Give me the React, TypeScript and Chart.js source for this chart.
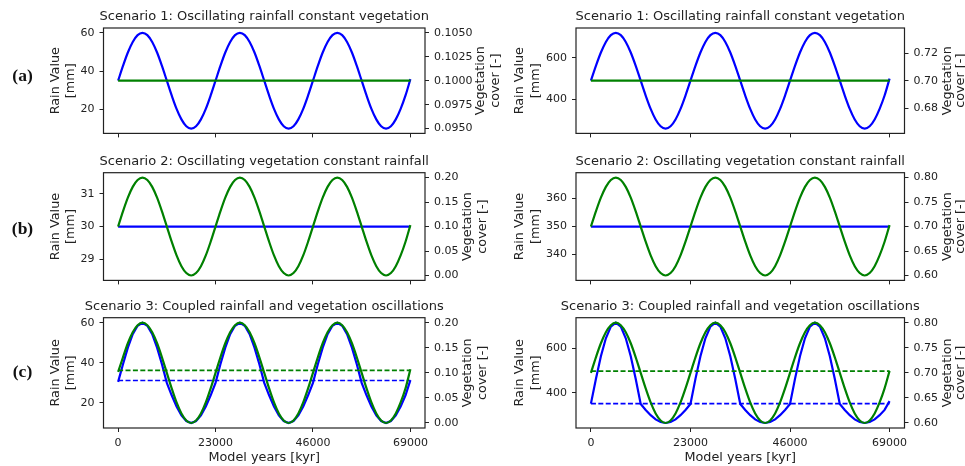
import React, { useEffect, useRef } from 'react';
import { Chart, registerables } from 'chart.js';

Chart.register(...registerables);
Chart.defaults.font.family = 'DejaVu Sans';

// ---------------- data ----------------
const years = [
  0, 1150, 2300, 3450, 4600, 5750, 6900, 8050, 9200, 10350,
  11500, 12650, 13800, 14950, 16100, 17250, 18400, 19550, 20700, 21850,
  23000, 24150, 25300, 26450, 27600, 28750, 29900, 31050, 32200, 33350,
  34500, 35650, 36800, 37950, 39100, 40250, 41400, 42550, 43700, 44850,
  46000, 47150, 48300, 49450, 50600, 51750, 52900, 54050, 55200, 56350,
  57500, 58650, 59800, 60950, 62100, 63250, 64400, 65550, 66700, 67850,
  69000,
];
const yearsEnds = [0, 69000];
const xTicks = [0, 23000, 46000, 69000];

// Scenario 1 (left): rainfall oscillates, vegetation constant
const rainS1L = [
  35, 42.7, 49.7, 55.2, 58.8, 60, 58.8, 55.2, 49.7, 42.7,
  35, 27.3, 20.3, 14.8, 11.2, 10, 11.2, 14.8, 20.3, 27.3,
  35, 42.7, 49.7, 55.2, 58.8, 60, 58.8, 55.2, 49.7, 42.7,
  35, 27.3, 20.3, 14.8, 11.2, 10, 11.2, 14.8, 20.3, 27.3,
  35, 42.7, 49.7, 55.2, 58.8, 60, 58.8, 55.2, 49.7, 42.7,
  35, 27.3, 20.3, 14.8, 11.2, 10, 11.2, 14.8, 20.3, 27.3,
  35.8,
];
const vegS1L = [0.1, 0.1];

// Scenario 1 (right)
const rainS1R = [
  490, 561.1, 625.2, 676.1, 708.8, 720, 708.8, 676.1, 625.2, 561.1,
  490, 418.9, 354.8, 303.9, 271.2, 260, 271.2, 303.9, 354.8, 418.9,
  490, 561.1, 625.2, 676.1, 708.8, 720, 708.8, 676.1, 625.2, 561.1,
  490, 418.9, 354.8, 303.9, 271.2, 260, 271.2, 303.9, 354.8, 418.9,
  490, 561.1, 625.2, 676.1, 708.8, 720, 708.8, 676.1, 625.2, 561.1,
  490, 418.9, 354.8, 303.9, 271.2, 260, 271.2, 303.9, 354.8, 418.9,
  500,
];
const vegS1R = [0.7, 0.7];

// Scenario 2 (left): vegetation oscillates, rainfall constant
const rainS2L = [30, 30];
const vegS2L = [
  0.1, 0.131, 0.159, 0.181, 0.195, 0.2, 0.195, 0.181, 0.159, 0.131,
  0.1, 0.069, 0.041, 0.019, 0.005, 0, 0.005, 0.019, 0.041, 0.069,
  0.1, 0.131, 0.159, 0.181, 0.195, 0.2, 0.195, 0.181, 0.159, 0.131,
  0.1, 0.069, 0.041, 0.019, 0.005, 0, 0.005, 0.019, 0.041, 0.069,
  0.1, 0.131, 0.159, 0.181, 0.195, 0.2, 0.195, 0.181, 0.159, 0.131,
  0.1, 0.069, 0.041, 0.019, 0.005, 0, 0.005, 0.019, 0.041, 0.069,
  0.103,
];

// Scenario 2 (right)
const rainS2R = [350, 350];
const vegS2R = [
  0.7, 0.731, 0.759, 0.781, 0.795, 0.8, 0.795, 0.781, 0.759, 0.731,
  0.7, 0.669, 0.641, 0.619, 0.605, 0.6, 0.605, 0.619, 0.641, 0.669,
  0.7, 0.731, 0.759, 0.781, 0.795, 0.8, 0.795, 0.781, 0.759, 0.731,
  0.7, 0.669, 0.641, 0.619, 0.605, 0.6, 0.605, 0.619, 0.641, 0.669,
  0.7, 0.731, 0.759, 0.781, 0.795, 0.8, 0.795, 0.781, 0.759, 0.731,
  0.7, 0.669, 0.641, 0.619, 0.605, 0.6, 0.605, 0.619, 0.641, 0.669,
  0.703,
];

// Scenario 3 (left): coupled
const rainS3L = [
  30.5, 39.3, 47.6, 54.3, 58.5, 60, 58.5, 54.3, 47.6, 39.3,
  30, 23.8, 18.2, 13.8, 11.0, 10, 11.0, 13.8, 18.2, 23.8,
  30, 39.3, 47.6, 54.3, 58.5, 60, 58.5, 54.3, 47.6, 39.3,
  30, 23.8, 18.2, 13.8, 11.0, 10, 11.0, 13.8, 18.2, 23.8,
  30, 39.3, 47.6, 54.3, 58.5, 60, 58.5, 54.3, 47.6, 39.3,
  30, 23.8, 18.2, 13.8, 11.0, 10, 11.0, 13.8, 18.2, 23.8,
  31.4,
];
const vegS3L = [
  0.102, 0.131, 0.159, 0.181, 0.195, 0.2, 0.195, 0.181, 0.159, 0.131,
  0.1, 0.069, 0.041, 0.019, 0.005, 0, 0.005, 0.019, 0.041, 0.069,
  0.1, 0.131, 0.159, 0.181, 0.195, 0.2, 0.195, 0.181, 0.159, 0.131,
  0.1, 0.069, 0.041, 0.019, 0.005, 0, 0.005, 0.019, 0.041, 0.069,
  0.1, 0.131, 0.159, 0.181, 0.195, 0.2, 0.195, 0.181, 0.159, 0.131,
  0.1, 0.069, 0.041, 0.019, 0.005, 0, 0.005, 0.019, 0.041, 0.069,
  0.107,
];
const rainRefS3L = [31.2, 31.2];
const vegRefS3L = [0.105, 0.105];

// Scenario 3 (right)
const rainS3R = [
  352, 462.8, 564.5, 645.3, 697.2, 715, 697.2, 645.3, 564.5, 462.8,
  350, 323.7, 300, 281.2, 269.2, 265, 269.2, 281.2, 300, 323.7,
  350, 462.8, 564.5, 645.3, 697.2, 715, 697.2, 645.3, 564.5, 462.8,
  350, 323.7, 300, 281.2, 269.2, 265, 269.2, 281.2, 300, 323.7,
  350, 462.8, 564.5, 645.3, 697.2, 715, 697.2, 645.3, 564.5, 462.8,
  350, 323.7, 300, 281.2, 269.2, 265, 269.2, 281.2, 300, 323.7,
  363,
];
const vegS3R = [
  0.7, 0.731, 0.759, 0.781, 0.795, 0.8, 0.795, 0.781, 0.759, 0.731,
  0.7, 0.669, 0.641, 0.619, 0.605, 0.6, 0.605, 0.619, 0.641, 0.669,
  0.7, 0.731, 0.759, 0.781, 0.795, 0.8, 0.795, 0.781, 0.759, 0.731,
  0.7, 0.669, 0.641, 0.619, 0.605, 0.6, 0.605, 0.619, 0.641, 0.669,
  0.7, 0.731, 0.759, 0.781, 0.795, 0.8, 0.795, 0.781, 0.759, 0.731,
  0.7, 0.669, 0.641, 0.619, 0.605, 0.6, 0.605, 0.619, 0.641, 0.669,
  0.704,
];
const rainRefS3R = [352, 352];
const vegRefS3R = [0.7035, 0.7035];

// tick labels
const rainTicksLeft = [[20, 40, 60], [29, 30, 31], [20, 40, 60]];
const rainTicksRight = [[400, 600], [340, 350, 360], [400, 600]];
const vegTicks1L = [0.095, 0.0975, 0.1, 0.1025, 0.105];
const vegTicksLow = [0, 0.05, 0.1, 0.15, 0.2];
const vegTicks1R = [0.68, 0.7, 0.72];
const vegTicksHigh = [0.6, 0.65, 0.7, 0.75, 0.8];

const titles = [
  'Scenario 1: Oscillating rainfall constant vegetation',
  'Scenario 2: Oscillating vegetation constant rainfall',
  'Scenario 3: Coupled rainfall and vegetation oscillations',
];
const panelLabels = ['(a)', '(b)', '(c)'];
const rainLabel = ['Rain Value', '[mm]'];
const vegLabel = ['Vegetation', 'cover [-]'];
const xLabel = 'Model years [kyr]';

// ---------------- layout / style ----------------
const BLUE = '#0000ff';
const GREEN = '#008000';
const TEXT = '#222222';
const FRAME = '#222222';

const COLS = [
  { cx: 0, cw: 505, l: 103.5, r: 425, leftLab: [56, 71] },
  { cx: 505, cw: 460, l: 576, r: 904.5, leftLab: [520, 536] },
];
const ROWS = [
  { cy: 0, ch: 145, t: 28, b: 137.5, labY: 76 },
  { cy: 145, ch: 147, t: 172.7, b: 283.2, labY: 229.3 },
  { cy: 292, ch: 174, t: 317.7, b: 428, labY: 372.3 },
];

type Series = { x: number[]; y: number[]; color: string; axis: 'y' | 'y1'; dashed?: boolean; linear?: boolean };
type Panel = {
  col: number;
  row: number;
  yRange: [number, number];
  yTicks: number[];
  yDec: number;
  y1Range: [number, number];
  y1Ticks: number[];
  y1Dec: number;
  rightLab: [number, number];
  series: Series[];
};

const panels: Panel[] = [
  {
    col: 0, row: 0, yRange: [7.5, 62.5], yTicks: rainTicksLeft[0], yDec: 0,
    y1Range: [0.0945, 0.1055], y1Ticks: vegTicks1L, y1Dec: 4, rightLab: [481, 496],
    series: [
      { x: yearsEnds, y: vegS1L, color: GREEN, axis: 'y1' },
      { x: years, y: rainS1L, color: BLUE, axis: 'y' },
    ],
  },
  {
    col: 1, row: 0, yRange: [237, 743], yTicks: rainTicksRight[0], yDec: 0,
    y1Range: [0.6615, 0.7385], y1Ticks: vegTicks1R, y1Dec: 2, rightLab: [948, 961],
    series: [
      { x: yearsEnds, y: vegS1R, color: GREEN, axis: 'y1' },
      { x: years, y: rainS1R, color: BLUE, axis: 'y' },
    ],
  },
  {
    col: 0, row: 1, yRange: [28.35, 31.65], yTicks: rainTicksLeft[1], yDec: 0,
    y1Range: [-0.01, 0.21], y1Ticks: vegTicksLow, y1Dec: 2, rightLab: [468, 483],
    series: [
      { x: years, y: vegS2L, color: GREEN, axis: 'y1' },
      { x: yearsEnds, y: rainS2L, color: BLUE, axis: 'y' },
    ],
  },
  {
    col: 1, row: 1, yRange: [330.75, 369.25], yTicks: rainTicksRight[1], yDec: 0,
    y1Range: [0.59, 0.81], y1Ticks: vegTicksHigh, y1Dec: 2, rightLab: [948, 961],
    series: [
      { x: years, y: vegS2R, color: GREEN, axis: 'y1' },
      { x: yearsEnds, y: rainS2R, color: BLUE, axis: 'y' },
    ],
  },
  {
    col: 0, row: 2, yRange: [7.5, 62.5], yTicks: rainTicksLeft[2], yDec: 0,
    y1Range: [-0.01, 0.21], y1Ticks: vegTicksLow, y1Dec: 2, rightLab: [468, 483],
    series: [
      { x: yearsEnds, y: vegRefS3L, color: GREEN, axis: 'y1', dashed: true },
      { x: years, y: vegS3L, color: GREEN, axis: 'y1' },
      { x: yearsEnds, y: rainRefS3L, color: BLUE, axis: 'y', dashed: true },
      { x: years, y: rainS3L, color: BLUE, axis: 'y', linear: true },
    ],
  },
  {
    col: 1, row: 2, yRange: [242.5, 737.5], yTicks: rainTicksRight[2], yDec: 0,
    y1Range: [0.59, 0.81], y1Ticks: vegTicksHigh, y1Dec: 2, rightLab: [948, 961],
    series: [
      { x: yearsEnds, y: vegRefS3R, color: GREEN, axis: 'y1', dashed: true },
      { x: years, y: vegS3R, color: GREEN, axis: 'y1' },
      { x: yearsEnds, y: rainRefS3R, color: BLUE, axis: 'y', dashed: true },
      { x: years, y: rainS3R, color: BLUE, axis: 'y', linear: true },
    ],
  },
];

const WL = 40;
const WR = 50;
const HX = 22;
const tickFont = { family: 'DejaVu Sans', size: 11 };

function vText(ctx: CanvasRenderingContext2D, lines: string[], xs: number[], cy: number) {
  lines.forEach((t, i) => {
    ctx.save();
    ctx.translate(xs[i], cy);
    ctx.rotate(-Math.PI / 2);
    ctx.textAlign = 'center';
    ctx.textBaseline = 'middle';
    ctx.fillText(t, 0, 0);
    ctx.restore();
  });
}

function SubPlot({ p }: { p: Panel }) {
  const ref = useRef<HTMLCanvasElement | null>(null);
  const col = COLS[p.col];
  const row = ROWS[p.row];

  useEffect(() => {
    const cv = ref.current;
    if (!cv) return;
    const ox = col.cx;
    const oy = row.cy;
    const decor = {
      id: 'decor',
      afterDraw(chart: any) {
        const ctx: CanvasRenderingContext2D = chart.ctx;
        const a = chart.chartArea;
        ctx.save();
        ctx.strokeStyle = FRAME;
        ctx.lineWidth = 1.2;
        ctx.strokeRect(a.left, a.top, a.right - a.left, a.bottom - a.top);
        ctx.fillStyle = TEXT;
        ctx.font = '13px "DejaVu Sans"';
        ctx.textAlign = 'center';
        ctx.textBaseline = 'alphabetic';
        ctx.fillText(titles[p.row], (a.left + a.right) / 2, a.top - 8);
        const cy = (a.top + a.bottom) / 2;
        ctx.font = '12.8px "DejaVu Sans"';
        vText(ctx, rainLabel, col.leftLab.map((v) => v - ox), cy);
        vText(ctx, vegLabel, p.rightLab.map((v) => v - ox), cy);
        if (p.row === 2) {
          ctx.textAlign = 'center';
          ctx.textBaseline = 'alphabetic';
          ctx.fillText(xLabel, (a.left + a.right) / 2, a.bottom + 33);
        }
        if (p.col === 0) {
          ctx.font = 'bold 17.5px "Liberation Serif"';
          ctx.fillStyle = '#111';
          ctx.textAlign = 'center';
          ctx.textBaseline = 'middle';
          ctx.fillText(panelLabels[p.row], 22.5 - ox, row.labY - oy);
        }
        ctx.restore();
      },
    };

    const grid = {
      display: true,
      drawOnChartArea: false,
      drawTicks: true,
      tickLength: 4,
      color: FRAME,
      lineWidth: 1,
    };

    const chart = new Chart(cv, {
      type: 'line',
      data: {
        datasets: p.series.map((s) => ({
          data: s.x.map((x, i) => ({ x, y: s.y[i] })),
          borderColor: s.color,
          backgroundColor: s.color,
          borderWidth: s.dashed ? 1.6 : 2.2,
          borderDash: s.dashed ? [5, 2.4] : [],
          pointRadius: 0,
          fill: false,
          yAxisID: s.axis,
          tension: 0,
          cubicInterpolationMode: s.linear || s.dashed ? 'default' : 'monotone',
        })),
      },
      options: {
        animation: false,
        responsive: false,
        devicePixelRatio: 1,
        events: [],
        layout: {
          padding: {
            left: col.l - col.cx - WL,
            right: col.cx + col.cw - col.r - WR,
            top: row.t - row.cy,
            bottom: row.cy + row.ch - row.b - HX,
          },
        },
        plugins: {
          legend: { display: false },
          tooltip: { enabled: false },
          title: { display: false },
        },
        scales: {
          x: {
            type: 'linear',
            min: -3450,
            max: 72450,
            afterBuildTicks: (s: any) => {
              s.ticks = xTicks.map((v) => ({ value: v }));
            },
            afterFit: (s: any) => {
              s.height = HX;
            },
            ticks: {
              display: p.row === 2,
              callback: (v: any) => String(v),
              font: tickFont,
              color: TEXT,
              padding: 5,
              maxRotation: 0,
              autoSkip: false,
            },
            grid,
            border: { display: false },
          },
          y: {
            type: 'linear',
            position: 'left',
            min: p.yRange[0],
            max: p.yRange[1],
            afterBuildTicks: (s: any) => {
              s.ticks = p.yTicks.map((v) => ({ value: v }));
            },
            afterFit: (s: any) => {
              s.width = WL;
            },
            ticks: {
              callback: (v: any) => Number(v).toFixed(p.yDec),
              font: tickFont,
              color: TEXT,
              padding: 5,
              autoSkip: false,
            },
            grid,
            border: { display: false },
          },
          y1: {
            type: 'linear',
            position: 'right',
            min: p.y1Range[0],
            max: p.y1Range[1],
            afterBuildTicks: (s: any) => {
              s.ticks = p.y1Ticks.map((v) => ({ value: v }));
            },
            afterFit: (s: any) => {
              s.width = WR;
            },
            ticks: {
              callback: (v: any) => Number(v).toFixed(p.y1Dec),
              font: tickFont,
              color: TEXT,
              padding: 5,
              autoSkip: false,
            },
            grid,
            border: { display: false },
          },
        },
      } as any,
      plugins: [decor],
    });
    return () => chart.destroy();
  }, []);

  return (
    <canvas
      ref={ref}
      width={col.cw}
      height={row.ch}
      style={{ position: 'absolute', left: col.cx, top: row.cy, width: col.cw, height: row.ch }}
    />
  );
}

export default function App() {
  return (
    <div
      style={{
        position: 'fixed',
        left: 0,
        top: 0,
        width: 965,
        height: 466,
        background: '#ffffff',
        overflow: 'hidden',
      }}
    >
      {panels.map((p, i) => (
        <SubPlot key={i} p={p} />
      ))}
    </div>
  );
}
